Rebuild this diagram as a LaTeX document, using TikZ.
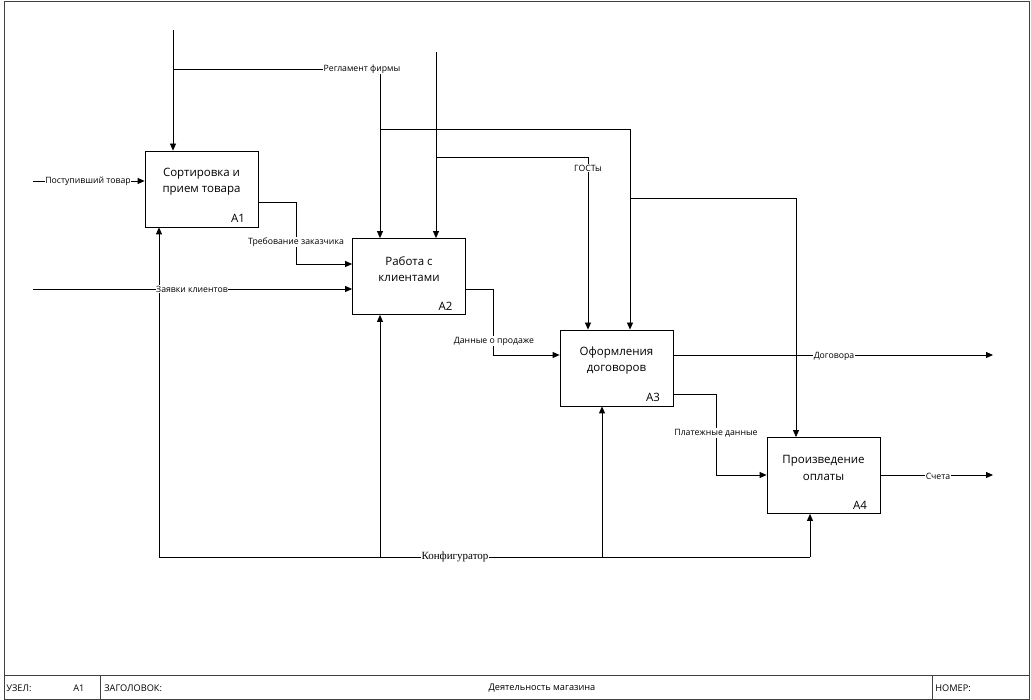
\documentclass[tikz,border=0pt]{standalone}
\usepackage{fontspec}
\setmainfont{Open Sans}
\newfontfamily\serifcyr{Liberation Serif}
\usetikzlibrary{arrows.meta,positioning}

\tikzset{
  blk/.style={draw, minimum width=113pt, minimum height=76pt, inner sep=0pt},
  btxt/.style={align=center, font=\fontsize{11.5}{16.5}\selectfont, inner sep=0pt},
  bnum/.style={font=\fontsize{11.5}{13}\selectfont, anchor=south east, inner sep=0pt},
  lbl/.style={fill=white, font=\fontsize{8.7}{10}\selectfont, inner sep=0.6pt},
  foot/.style={anchor=west, font=\fontsize{9.2}{10}\selectfont, inner sep=0pt},
}

\begin{document}
\begin{tikzpicture}[x=1pt, y=-1pt, >={Triangle[length=7pt,width=6pt]}, line width=0.8pt]
  \useasboundingbox (0,0) rectangle (1031,700);
  % frame and footer
  \draw[line width=1pt, black!75] (4,2) rectangle (1029,699);
  \draw[line width=1pt, black!75] (4,675) -- (1029,675) (100,675) -- (100,699) (932,675) -- (932,699);
  \node[foot] (uzel) at (6,688.5) {УЗЕЛ:};
  \node[foot] (uzelno) at (73,688.5) {А1};
  \node[foot] (zag) at (104,688.5) {ЗАГОЛОВОК:};
  \node[foot, anchor=center] (title) at (542,688.5) {Деятельность магазина};
  \node[foot] (nomer) at (935,688.5) {НОМЕР:};

  % blocks
  \foreach \n/\m/\x/\y/\t in {a1/A1/201.5/189/{Сортировка и\\прием товара},
      a2/A2/409/276.5/{Работа с\\клиентами},
      a3/A3/616.5/368/{Оформления\\договоров},
      a4/A4/823.5/475.5/{Произведение\\оплаты}} {
    \node[blk] (\n) at (\x,\y) {};
    \node[btxt] at ([yshift=7.5pt]\n.center) {\t};
    \node[bnum] at ([xshift=-13pt,yshift=4pt]\n.south east) {\m};
  }

  % inputs
  \coordinate (in1) at (33,181);
  \coordinate (in2) at (33,289);
  \draw[->] (in1) -- (a1.west |- in1);
  \draw[->] (in2) -- (a2.west |- in2);
  \draw[->] ([yshift=-13pt]a1.east) -| (296,264) -- (a2.west |- 0,264);
  \draw[->] ([yshift=-12.5pt]a2.east) -| (493,355) -- (a3.west |- 0,355);
  \draw[->] ([yshift=-26pt]a3.east) -| (716,475) -- (a4.west |- 0,475);

  % outputs
  \coordinate (out1) at (993,355);
  \coordinate (out2) at (993,475);
  \draw[->] (a3.east |- out1) -- (out1);
  \draw[->] (a4.east |- out2) -- (out2);

  % controls
  \coordinate (reg) at (173,30);
  \coordinate (gost) at (436,52);
  \draw[->] (reg) -- (a1.north -| reg);
  \draw[->] (173,69) -| (a2.north -| 380,0);
  \draw[->] (380,129) -| (a3.north -| 630,0);
  \draw[->] (630,198) -| (a4.north -| 796,0);
  \draw[->] (gost) -- (a2.north -| gost);
  \draw[->] (436,157) -| (a3.north -| 588,0);

  % mechanism
  \draw (159,557) -- (810,557);
  \foreach \b/\x in {a1/159, a2/380, a3/602, a4/810}
    \draw[->] (\x,557) -- (\b.south -| \x,0);

  % labels
  \node[lbl] (postup) at (88,181) {Поступивший товар};
  \node[lbl] (zayavki) at (192,289) {Заявки клиентов};
  \node[lbl] (reglam) at (362,69) {Регламент фирмы};
  \node[lbl] (gosty) at (588,168) {ГОСТы};
  \node[lbl] (trebov) at (296,242) {Требование заказчика};
  \node[lbl] (dannye) at (494,341) {Данные о продаже};
  \node[lbl] (dogov) at (834,356) {Договора};
  \node[lbl] (plat) at (716,433) {Платежные данные};
  \node[lbl] (scheta) at (938,476) {Счета};
  \node[lbl, font=\serifcyr\fontsize{11}{12}\selectfont] (konf) at (455,557) {Конфигуратор};
\end{tikzpicture}
\end{document}
